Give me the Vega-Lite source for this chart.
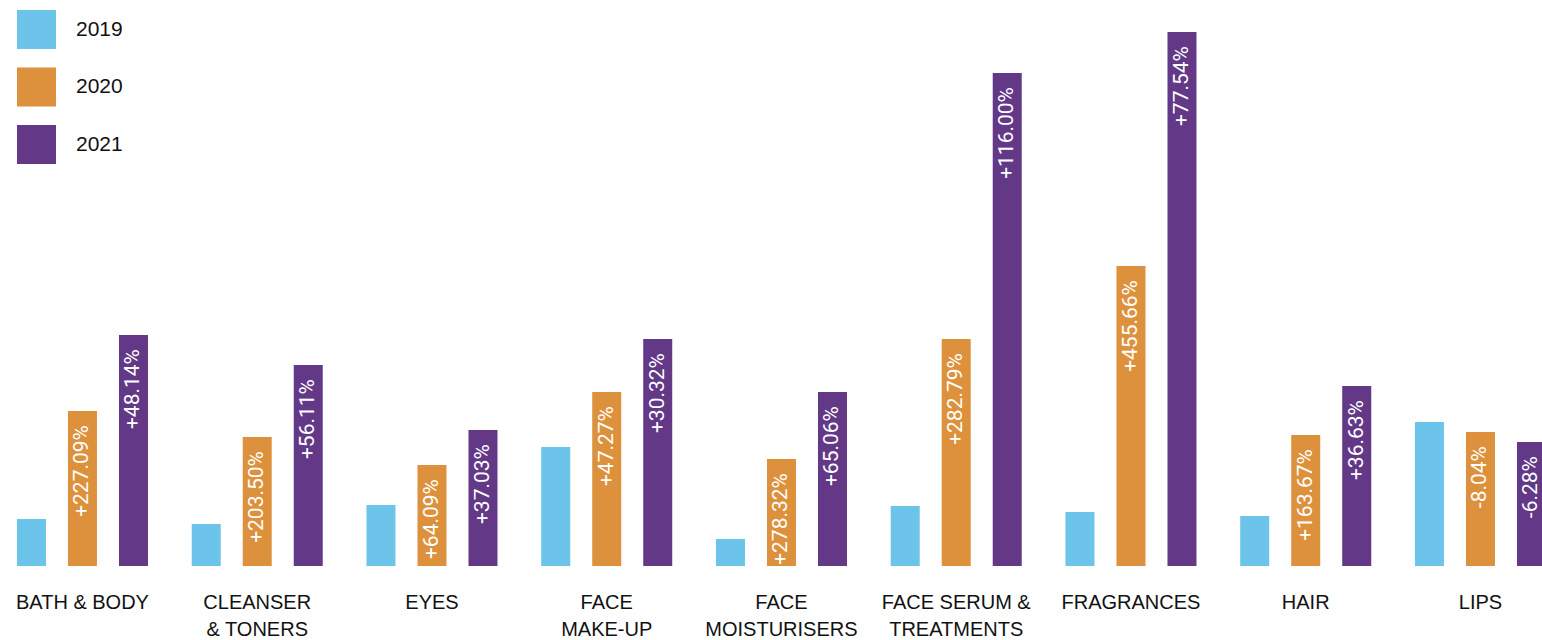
{
  "$schema": "https://vega.github.io/schema/vega-lite/v6.json",
  "width": 1542,
  "height": 566,
  "autosize": {"type": "none"},
  "padding": {"left": 0, "top": 0, "right": 0, "bottom": 74},
  "background": "white",
  "config": {"view": {"stroke": null}},
  "data": {
    "values": [
      {"category": "BATH & BODY", "year": "2019", "value": 47, "change": ""},
      {"category": "BATH & BODY", "year": "2020", "value": 155, "change": "+227.09%"},
      {"category": "BATH & BODY", "year": "2021", "value": 231, "change": "+48.14%"},
      {"category": "CLEANSER & TONERS", "year": "2019", "value": 42, "change": ""},
      {"category": "CLEANSER & TONERS", "year": "2020", "value": 129, "change": "+203.50%"},
      {"category": "CLEANSER & TONERS", "year": "2021", "value": 201, "change": "+56.11%"},
      {"category": "EYES", "year": "2019", "value": 61, "change": ""},
      {"category": "EYES", "year": "2020", "value": 101, "change": "+64.09%"},
      {"category": "EYES", "year": "2021", "value": 136, "change": "+37.03%"},
      {"category": "FACE MAKE-UP", "year": "2019", "value": 119, "change": ""},
      {"category": "FACE MAKE-UP", "year": "2020", "value": 174, "change": "+47.27%"},
      {"category": "FACE MAKE-UP", "year": "2021", "value": 227, "change": "+30.32%"},
      {"category": "FACE MOISTURISERS", "year": "2019", "value": 27, "change": ""},
      {"category": "FACE MOISTURISERS", "year": "2020", "value": 107, "change": "+278.32%"},
      {"category": "FACE MOISTURISERS", "year": "2021", "value": 174, "change": "+65.06%"},
      {"category": "FACE SERUM & TREATMENTS", "year": "2019", "value": 60, "change": ""},
      {"category": "FACE SERUM & TREATMENTS", "year": "2020", "value": 227, "change": "+282.79%"},
      {"category": "FACE SERUM & TREATMENTS", "year": "2021", "value": 493, "change": "+116.00%"},
      {"category": "FRAGRANCES", "year": "2019", "value": 54, "change": ""},
      {"category": "FRAGRANCES", "year": "2020", "value": 300, "change": "+455.66%"},
      {"category": "FRAGRANCES", "year": "2021", "value": 534, "change": "+77.54%"},
      {"category": "HAIR", "year": "2019", "value": 50, "change": ""},
      {"category": "HAIR", "year": "2020", "value": 131, "change": "+163.67%"},
      {"category": "HAIR", "year": "2021", "value": 180, "change": "+36.63%"},
      {"category": "LIPS", "year": "2019", "value": 144, "change": ""},
      {"category": "LIPS", "year": "2020", "value": 134, "change": "-8.04%"},
      {"category": "LIPS", "year": "2021", "value": 124, "change": "-6.28%"}
    ]
  },
  "encoding": {
    "x": {
      "field": "category",
      "type": "nominal",
      "sort": null,
      "title": null,
      "scale": {"range": [-4.9, 1567.85], "paddingInner": 0, "paddingOuter": 0},
      "axis": {
        "domain": false,
        "ticks": false,
        "grid": false,
        "labelAngle": 0,
        "labelPadding": 26,
        "labelFont": "Liberation Sans",
        "labelFontSize": 20,
        "labelColor": "#111111",
        "labelLineHeight": 27,
        "labelBaseline": "top",
        "labelLimit": 300,
        "labelExpr": "datum.value == 'CLEANSER & TONERS' ? ['CLEANSER', '& TONERS'] : datum.value == 'FACE MAKE-UP' ? ['FACE', 'MAKE-UP'] : datum.value == 'FACE MOISTURISERS' ? ['FACE', 'MOISTURISERS'] : datum.value == 'FACE SERUM & TREATMENTS' ? ['FACE SERUM &', 'TREATMENTS'] : datum.value"
      }
    },
    "xOffset": {
      "field": "year",
      "type": "nominal",
      "scale": {"paddingInner": 0.4314, "paddingOuter": 0.4287}
    },
    "y": {
      "field": "value",
      "type": "quantitative",
      "scale": {"domain": [0, 566], "nice": false, "zero": true},
      "axis": null
    }
  },
  "layer": [
    {
      "mark": {"type": "bar"},
      "encoding": {
        "color": {
          "field": "year",
          "type": "nominal",
          "scale": {"domain": ["2019", "2020", "2021"], "range": ["#6CC4EB", "#DE913C", "#623887"]},
          "legend": {
            "title": null,
            "orient": "none",
            "legendX": 17,
            "legendY": 10,
            "symbolType": "square",
            "symbolSize": 1521,
            "symbolStrokeWidth": 0,
            "symbolOpacity": 1,
            "rowPadding": 18.5,
            "labelOffset": 20,
            "labelFont": "Liberation Sans",
            "labelFontSize": 21,
            "labelColor": "#111111",
            "padding": 0
          }
        }
      }
    },
    {
      "mark": {
        "type": "text",
        "angle": 270,
        "align": "right",
        "baseline": "middle",
        "dx": -14,
        "color": "white",
        "font": "Roboto",
        "fontSize": 21
      },
      "encoding": {
        "text": {"field": "change", "type": "nominal"}
      }
    }
  ]
}
